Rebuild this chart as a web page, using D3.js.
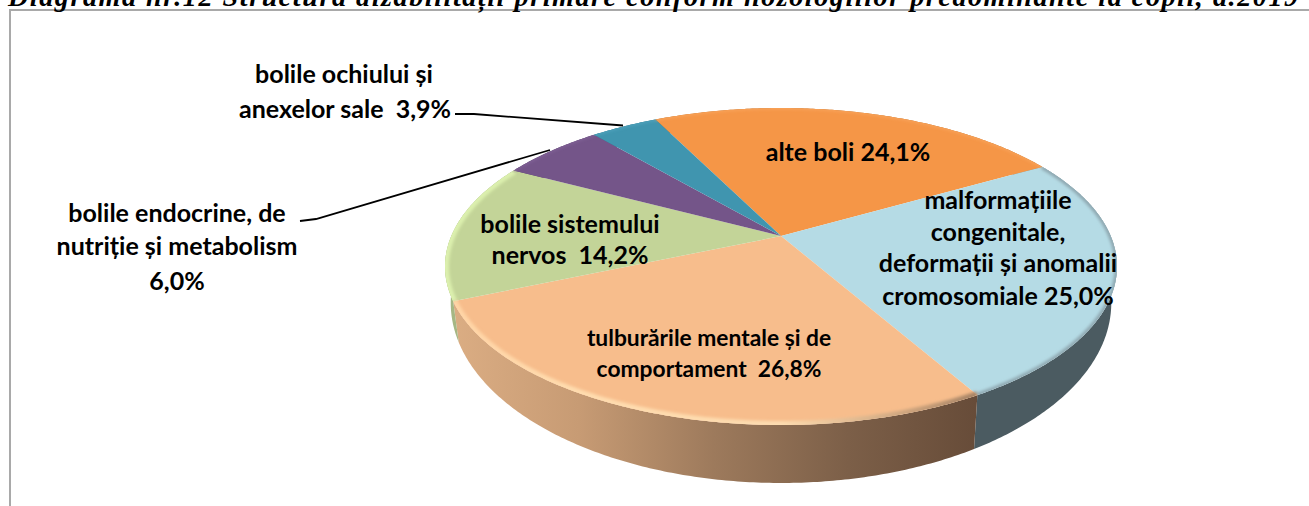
<!DOCTYPE html>
<html>
<head>
<meta charset="utf-8">
<script src="https://cdnjs.cloudflare.com/ajax/libs/d3/7.8.5/d3.min.js"></script>
<style>
html, body { margin: 0; padding: 0; background: #fff; overflow: hidden; }
text { white-space: pre; }
</style>
</head>
<body>
<script>
const titleText = "Diagrama nr.12 Structura dizabilității primare conform nozologiilor predominante la copii, a.2019";
const categories = ["alte boli", "malformațiile congenitale", "tulburările mentale", "bolile sistemului nervos", "bolile endocrine", "bolile ochiului"];
const values = [24.1, 25.0, 26.8, 14.2, 6.0, 3.9];
const topColors = ["#f59647", "#b5dbe5", "#f7bd8c", "#c3d498", "#745589", "#4095af"];
const labelLines = [
    ["alte boli 24,1%"],
    ["malformațiile", "congenitale,", "deformații și anomalii", "cromosomiale 25,0%"],
    ["tulburările mentale și de", "comportament  26,8%"],
    ["bolile sistemului", "nervos  14,2%"],
    ["bolile endocrine, de", "nutriție și metabolism", "6,0%"],
    ["bolile ochiului și", "anexelor sale  3,9%"]
];

const width = 1309, height = 506;
const cx = 781, cy = 236;          // where the slices meet, off centre because of the perspective
const projA = 329.7, projB = 152.6, projP = 0.1925;
const startDeg = -26.5;
const side = 0.983;

// label anchors, one per line of labelLines
const labelX = [[848], [998, 998, 998, 998], [709, 709], [570, 570], [177, 177, 177], [344, 345]];
const labelY = [[161], [209, 241, 272, 305], [346, 377], [233, 264], [222, 255, 290], [83, 118]];
const labelSize = [25, 25, 22.8, 25, 25, 25];
const leaders = [
    [[455, 114], [474, 114], [623, 125.5]],
    [[300, 221], [316, 219], [550, 150]]
];

// tilted circle -> screen
function project(a) {
    const u = Math.sin(a), v = Math.cos(a), w = 1 + projP * v;
    return [cx + projA * u / w, cy - projB * v / w];
}
function lower(p) {
    return [cx + side * (p[0] - cx), p[1] + 41 + (p[1] - 300) * 0.136];
}
function arcPoints(a0, a1) {
    const n = Math.max(2, Math.ceil((a1 - a0) / 0.01));
    return d3.range(n + 1).map(i => project(a0 + (a1 - a0) * i / n));
}

const slices = d3.pie().sort(null)
    .startAngle(startDeg * Math.PI / 180)
    .endAngle((startDeg + 360) * Math.PI / 180)(values);

const svg = d3.select("body").append("svg")
    .attr("width", width)
    .attr("height", height)
    .style("display", "block");
const defs = svg.append("defs");

function gradient(id, stops) {
    const g = defs.append("linearGradient")
        .attr("id", id)
        .attr("gradientUnits", "userSpaceOnUse")
        .attr("x1", 445).attr("x2", 1117).attr("y1", 0).attr("y2", 0);
    stops.forEach(s => g.append("stop").attr("offset", s[0]).attr("stop-color", s[1]));
}
gradient("wallTulb", [[0, "#dcae84"], [0.2, "#c79b74"], [0.4, "#9d7a5c"], [0.6, "#7c5f48"], [0.8, "#664b38"], [1, "#5c4332"]]);
gradient("rimTulb", [[0, "#ffd3a4"], [0.2, "#ffdcae"], [0.5, "#fddcb0"], [0.7, "#c9a07a"], [0.85, "#8e6f56"], [1, "#8e6f56"]]);
defs.append("filter").attr("id", "soft")
    .attr("x", "-5%").attr("y", "-5%").attr("width", "110%").attr("height", "110%")
    .append("feGaussianBlur").attr("stdDeviation", 1.4);
defs.append("clipPath").attr("id", "topClip")
    .append("path")
    .attr("d", d3.line()(arcPoints(0, 2 * Math.PI)) + "Z");

const wallColors = ["#b07034", "#4b5b61", "url(#wallTulb)", "#a6b784", "#55406a", "#2f7388"];
const rimColors = ["#f9a862", "#8fa8b1", "url(#rimTulb)", "#dcf0ae", "#84659a", "#52a6c0"];
const rimWidth = [2, 5, 8, 8, 2, 2];

const line = d3.line();

// frame of the chart, runs off the page to the right and the bottom
svg.append("path")
    .attr("d", line([[10, height], [10, 10], [width, 10]]))
    .attr("fill", "none")
    .attr("stroke", "#a9a9a9")
    .attr("stroke-width", 2);

// title is cut off by the top of the page
svg.append("text")
    .attr("x", 8)
    .attr("y", 6)
    .attr("textLength", 1290)
    .attr("lengthAdjust", "spacing")
    .attr("font-family", "Liberation Serif")
    .attr("font-weight", "bold")
    .attr("font-style", "italic")
    .attr("font-size", 28)
    .attr("fill", "#000")
    .text(titleText);

// side wall
svg.append("g").selectAll("path")
    .data(slices)
    .join("path")
    .attr("d", d => {
        const pts = arcPoints(d.startAngle, d.endAngle);
        return line(pts.concat(pts.map(lower).reverse())) + "Z";
    })
    .attr("fill", d => wallColors[d.index]);

// top surface
svg.append("g").selectAll("path")
    .data(slices)
    .join("path")
    .attr("d", d => line([[cx, cy]].concat(arcPoints(d.startAngle, d.endAngle))) + "Z")
    .attr("fill", d => topColors[d.index]);

// bevel along the outer edge
svg.append("g")
    .attr("clip-path", "url(#topClip)")
    .selectAll("path")
    .data(slices)
    .join("path")
    .attr("d", d => line(arcPoints(d.startAngle, d.endAngle)))
    .attr("fill", "none")
    .attr("stroke", d => rimColors[d.index])
    .attr("stroke-width", d => rimWidth[d.index])
    .attr("filter", "url(#soft)");

// leader lines
svg.append("g").selectAll("path")
    .data(leaders)
    .join("path")
    .attr("d", d => line(d))
    .attr("fill", "none")
    .attr("stroke", "#000")
    .attr("stroke-width", 1.8);

// data labels
const labels = svg.append("g")
    .attr("font-family", "Lato")
    .attr("font-weight", "bold")
    .attr("text-anchor", "middle")
    .attr("fill", "#000");
labelLines.forEach((lines, i) => {
    lines.forEach((t, j) => {
        labels.append("text")
            .attr("x", labelX[i][j])
            .attr("y", labelY[i][j])
            .attr("font-size", labelSize[i])
            .text(t);
    });
});
</script>
</body>
</html>
